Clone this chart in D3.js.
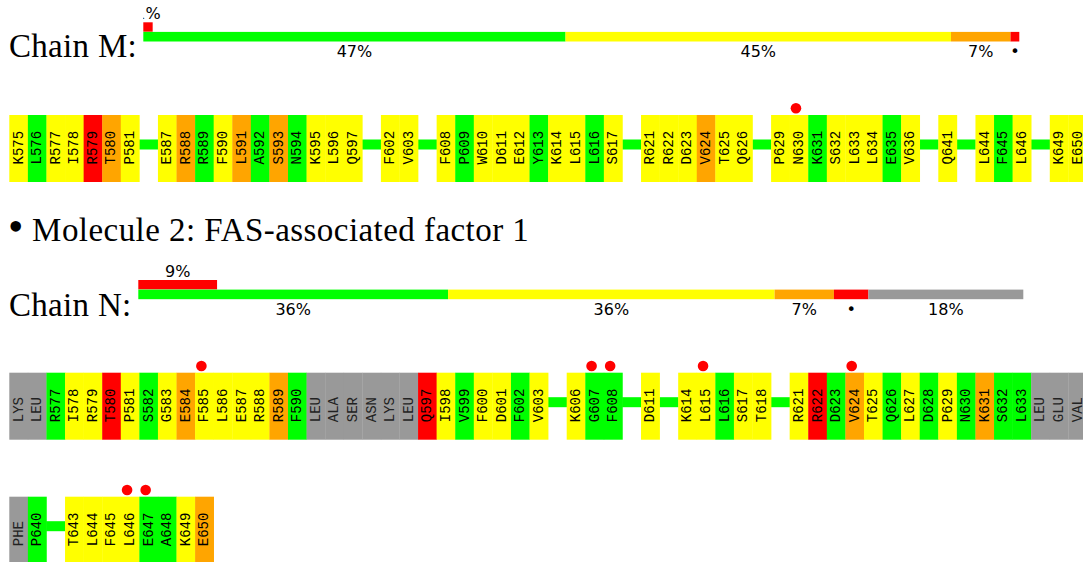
<!DOCTYPE html>
<html><head><meta charset="utf-8">
<script src="https://cdn.jsdelivr.net/npm/d3@7"></script>
<style>body{margin:0;background:#fff} svg{display:block}</style>
</head><body>
<svg id="c" width="1083" height="562"></svg>
<script>
// ---- data ----
const qualityColors = {G:"#00ff00", Y:"#ffff00", O:"#ffa500", R:"#ff0000", X:"#999999"};

// summary bars (percent of chain)
const chainMBarClasses = ["G","Y","O","R"];
const chainMBarValues  = [48.2, 44.0, 6.8, 1.0];
const chainMBarLabels  = ["47%","45%","7%","•"];
const chainMTopValue = 1.07;
const chainMTopLabel = "1%";

const chainNBarClasses = ["G","Y","O","R","X"];
const chainNBarValues  = [35.0, 36.9, 6.7, 3.9, 17.5];
const chainNBarLabels  = ["36%","36%","7%","•","18%"];
const chainNTopValue = 8.9;
const chainNTopLabel = "9%";

// residues ("-" = gap in the modelled sequence)
const chainMResidues = ["K575","L576","R577","I578","R579","T580","P581","-","E587","R588","R589","F590","L591","A592","S593","N594","K595","L596","Q597","-","F602","V603","-","F608","P609","W610","D611","E612","Y613","K614","L615","L616","S617","-","R621","R622","D623","V624","T625","Q626","-","P629","N630","K631","S632","L633","L634","E635","V636","-","Q641","-","L644","F645","L646","-","K649","E650"];
const chainMQuality = ["Y","G","Y","Y","R","O","Y","-","Y","O","G","Y","O","G","O","G","Y","Y","Y","-","Y","Y","-","Y","G","Y","Y","Y","G","Y","Y","G","Y","-","Y","Y","Y","O","Y","Y","-","Y","Y","G","Y","Y","Y","G","Y","-","Y","-","Y","G","Y","-","Y","Y"];
const chainMOutliers = ["N630"];

const chainNRow1Residues = ["LYS","LEU","R577","I578","R579","T580","P581","S582","G583","E584","F585","L586","E587","R588","R589","F590","LEU","ALA","SER","ASN","LYS","LEU","Q597","I598","V599","F600","D601","F602","V603","-","K606","G607","F608","-","D611","-","K614","L615","L616","S617","T618","-","R621","R622","D623","V624","T625","Q626","L627","D628","P629","N630","K631","S632","L633","LEU","GLU","VAL"];
const chainNRow1Quality = ["X","X","G","Y","Y","R","Y","G","Y","O","Y","Y","Y","Y","O","G","X","X","X","X","X","X","R","Y","G","Y","Y","G","Y","-","Y","G","G","-","Y","-","Y","Y","G","Y","Y","-","Y","R","G","O","Y","G","Y","G","Y","G","O","G","G","X","X","X"];
const chainNRow2Residues = ["PHE","P640","-","T643","L644","F645","L646","E647","A648","K649","E650"];
const chainNRow2Quality  = ["X","G","-","Y","Y","Y","Y","G","G","Y","O"];
const chainNOutliers = ["F585","G607","F608","L615","V624","L646","E647"];

// ---- drawing ----
const svg = d3.select("#c");
const slots = d3.range(58);
const xRes = d3.scaleBand().domain(slots).range([9.3, 9.3 + 58 * 18.58]).paddingInner(0).paddingOuter(0);
const boxH = 67;
const serif = "Liberation Serif, serif";

function drawBar(labelText, x0, width, yTop, classes, values, labels, topValue, topLabel, labelBaseline, clipId) {
  svg.append("text").attr("x", 9).attr("y", labelBaseline)
    .attr("font-family", serif).attr("font-size", 33).attr("letter-spacing", 0.3).attr("fill", "#000")
    .text(labelText);
  const x = d3.scaleLinear().domain([0, 100]).range([x0, x0 + width]);
  const cum = d3.cumsum(values);
  const starts = values.map((v, i) => cum[i] - v);
  const g = svg.append("g");
  g.append("rect").attr("x", x(0)).attr("y", yTop).attr("width", x(topValue) - x(0)).attr("height", 9.4)
    .attr("fill", qualityColors.R);
  svg.append("clipPath").attr("id", clipId).append("rect")
    .attr("x", x0).attr("y", 0).attr("width", 1083 - x0).attr("height", 562);
  g.append("text").attr("clip-path", `url(#${clipId})`)
    .attr("x", x(topValue / 2)).attr("y", yTop - 3.3).attr("text-anchor", "middle")
    .attr("font-family", "DejaVu Sans, sans-serif").attr("font-size", 16).text(topLabel);
  g.selectAll("rect.seg").data(values).join("rect").attr("class", "seg")
    .attr("x", (d, i) => x(starts[i])).attr("y", yTop + 9.6)
    .attr("width", (d, i) => x(starts[i] + d) - x(starts[i])).attr("height", 9.6)
    .attr("fill", (d, i) => qualityColors[classes[i]]);
  g.selectAll("text.pct").data(values).join("text").attr("class", "pct")
    .attr("x", (d, i) => x(starts[i] + d / 2)).attr("y", yTop + 19.2 + 15.5)
    .attr("text-anchor", "middle").attr("font-family", "DejaVu Sans, sans-serif")
    .attr("font-size", 16).attr("fill", "#000")
    .text((d, i) => labels[i]);
}

function drawRow(residues, quality, outliers, top) {
  const g = svg.append("g");
  const items = residues.map((r, i) => ({r, q: quality[i], i}));
  const cells = items.filter(d => d.r !== "-");
  const gaps = items.filter(d => d.r === "-");
  g.selectAll("rect.gap").data(gaps).join("rect").attr("class", "gap")
    .attr("x", d => xRes(d.i) - 0.3).attr("y", top + 24.5)
    .attr("width", xRes.bandwidth() + 0.6).attr("height", 10).attr("fill", qualityColors.G);
  g.selectAll("rect.cell").data(cells).join("rect").attr("class", "cell")
    .attr("x", d => xRes(d.i)).attr("y", top)
    .attr("width", xRes.bandwidth() + 0.3).attr("height", boxH)
    .attr("fill", d => qualityColors[d.q]);
  g.selectAll("text.res").data(cells).join("text").attr("class", "res")
    .attr("transform", d => `translate(${xRes(d.i) + xRes.bandwidth() / 2},${top + 49.5}) rotate(-90)`)
    .attr("dominant-baseline", "central")
    .attr("font-family", "Liberation Mono, monospace").attr("font-size", 14)
    .attr("fill", d => d.q === "X" ? "#222" : "#000")
    .text(d => d.r);
  g.selectAll("circle.out").data(cells.filter(d => outliers.includes(d.r))).join("circle")
    .attr("class", "out")
    .attr("cx", d => xRes(d.i) + xRes.bandwidth() / 2 - 3).attr("cy", top - 6.7)
    .attr("r", 5.3).attr("fill", "#ff0000");
}

drawBar("Chain M:", 143.3, 876, 22.3, chainMBarClasses, chainMBarValues, chainMBarLabels, chainMTopValue, chainMTopLabel, 57, "clipM");
drawRow(chainMResidues, chainMQuality, chainMOutliers, 115);

const title = svg.append("text").attr("x", 8).attr("y", 241)
  .attr("font-family", serif).attr("fill", "#000");
title.append("tspan").attr("font-size", 44).text("•");
title.append("tspan").attr("font-size", 33).attr("letter-spacing", 0.45).text(" Molecule 2:  FAS-associated factor 1");

drawBar("Chain N:", 138.3, 885, 280, chainNBarClasses, chainNBarValues, chainNBarLabels, chainNTopValue, chainNTopLabel, 316, "clipN");
drawRow(chainNRow1Residues, chainNRow1Quality, chainNOutliers, 372.7);
drawRow(chainNRow2Residues, chainNRow2Quality, chainNOutliers, 496.7);
</script>
</body></html>
